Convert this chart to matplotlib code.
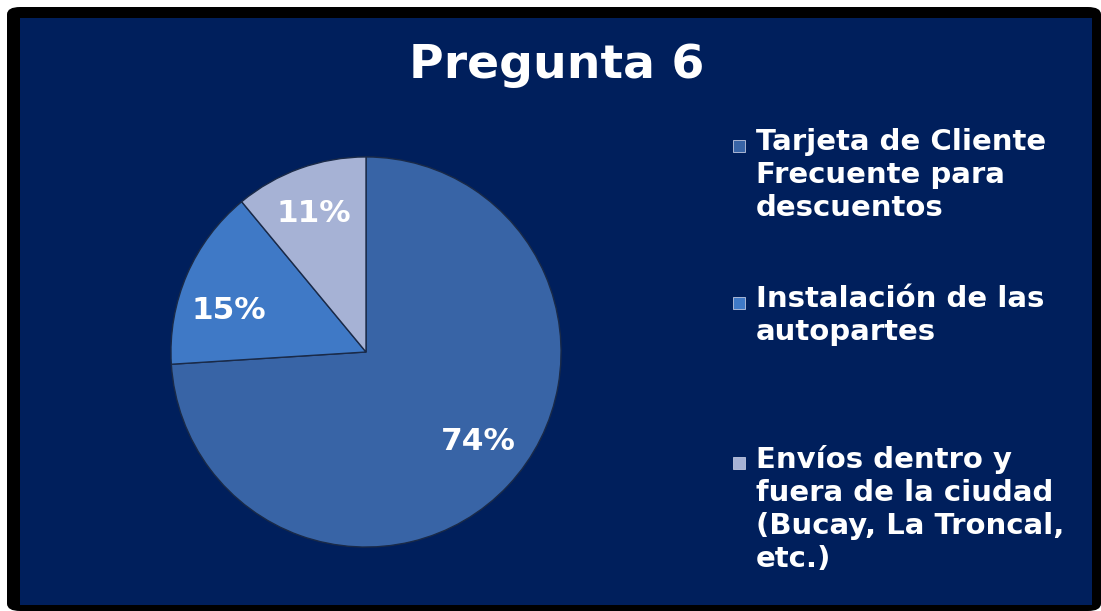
import matplotlib.pyplot as plt
from matplotlib.patches import FancyBboxPatch, Rectangle

# data
labels = ['Tarjeta de Cliente\nFrecuente para\ndescuentos',
          'Instalación de las\nautopartes',
          'Envíos dentro y\nfuera de la ciudad\n(Bucay, La Troncal,\netc.)']
values = [74, 15, 11]
colors = ['#3864a6', '#3f79c6', '#a6b2d5']
title = 'Pregunta 6'

W, H = 1101, 611
fig = plt.figure(figsize=(W / 100, H / 100), dpi=100)
fig.patch.set_facecolor('white')

# black frame with navy panel
fig.patches.append(FancyBboxPatch((7 / W, 0), (W - 7) / W, (H - 7) / H,
                                  boxstyle='round,pad=0,rounding_size=0.012',
                                  transform=fig.transFigure, facecolor='black',
                                  edgecolor='none', zorder=0))
fig.patches.append(Rectangle((20 / W, 1 - 605 / H), 1072 / W, 587 / H,
                             transform=fig.transFigure, facecolor='#001f5c',
                             edgecolor='none', zorder=1))

fig.text(557 / W, 1 - 65 / H, title, ha='center', va='center',
         color='white', fontsize=34, fontweight='bold', family='DejaVu Sans')

# pie
cx, cy, r = 366, 352, 197
ax = fig.add_axes([(cx - r) / W, 1 - (cy + r) / H, 2 * r / W, 2 * r / H])
ax.set_zorder(5)
ax.set_facecolor('none')
wedges, texts, autotexts = ax.pie(values, colors=colors, startangle=90,
                                  counterclock=False, autopct='%d%%',
                                  pctdistance=0.74,
                                  wedgeprops=dict(edgecolor='#1a2a48', linewidth=1.0))
# nudge labels (in pixels) to sit where the original puts them
nudges = [(7, 9), (-5, -16), (-3, 3)]
for t, (dx, dy) in zip(autotexts, nudges):
    x, y = t.get_position()
    t.set_position((x + dx / r, y + dy / r))
    t.set_color('white')
    t.set_fontsize(22.5)
    t.set_fontweight('bold')
ax.set_xlim(-1.01, 1.01)
ax.set_ylim(-1.01, 1.01)
ax.set_aspect('equal')
ax.axis('off')

# legend drawn by hand
tops = [143, 300, 460]
for lab, col, top in zip(labels, colors, tops):
    fig.patches.append(Rectangle((733 / W, 1 - (top + 9) / H), 12 / W, 12 / H,
                                 transform=fig.transFigure, facecolor=col,
                                 edgecolor='#c0c8e0', linewidth=0.6, zorder=3))
    fig.text(756 / W, 1 - (top - 15) / H, lab, ha='left', va='top',
             color='white', fontsize=21, fontweight='bold',
             linespacing=1.22, family='DejaVu Sans')

fig.savefig('out.png', dpi=100, facecolor=fig.get_facecolor())
